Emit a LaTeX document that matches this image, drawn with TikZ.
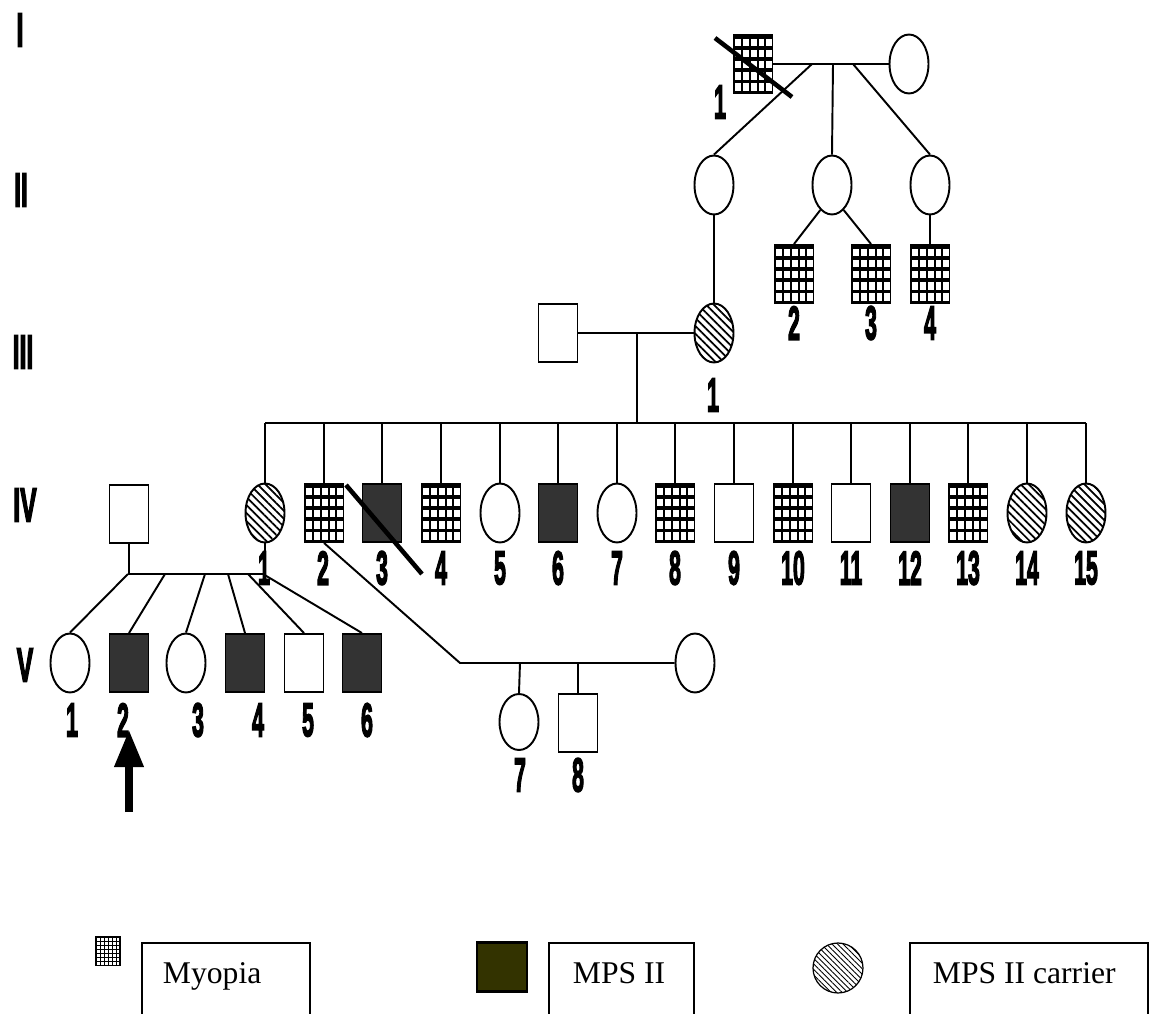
\documentclass[tikz,border=0pt]{standalone}
\usepackage{fontspec}
\usepackage{graphicx}
\setmainfont{Liberation Serif}
\newfontfamily\pedfont{Liberation Sans}[BoldFeatures={FakeBold=4}]
\usetikzlibrary{shapes.geometric,patterns,patterns.meta,arrows.meta}
\newcommand{\pednum}[1]{\scalebox{0.45}[1]{\pedfont\bfseries\fontsize{27}{27}\selectfont #1}}
\newcommand{\genlab}[1]{\scalebox{0.52}[1]{\pedfont\bfseries\fontsize{27}{27}\selectfont #1}}
\definecolor{mpsleg}{RGB}{51,51,0}

\begin{document}
\begin{tikzpicture}[x=0.02cm,y=-0.02cm,line width=1.1pt,
  male/.style={draw,rectangle,minimum width=0.78cm,minimum height=1.16cm,inner sep=0pt},
  female/.style={draw,ellipse,minimum width=0.78cm,minimum height=1.18cm,inner sep=0pt},
  mps/.style={male,fill=black!80},
  myopia/.style={male,fill=black,path picture={
      \foreach \cc in {0,...,4}
        \foreach \rr in {0,...,4}
          \fill[white] ([shift={(1.9+7.7*\cc,3.5+11.2*\rr)}]path picture bounding box.north west) rectangle ++(5.8,7.5);}},
  carrier/.style={female,pattern={Lines[angle=-45,distance=3.2pt,line width=1pt]}},
  num/.style={inner sep=0pt},
  slash/.style={line width=2.6pt},
  proband/.style={line width=4pt,-{Triangle[length=0.74cm,width=0.56cm]}},
  legbox/.style={line width=0.7pt},
  legtext/.style={inner sep=0pt,anchor=base west,font=\fontsize{18}{18}\selectfont}]
\path[use as bounding box,fill=white] (0,0) rectangle (1150,1014);

% generation labels
\node[num] (gI) at (20,30) {\genlab{I}};
\node[num] (gII) at (21,190) {\genlab{II}};
\node[num] (gIII) at (23,352) {\genlab{III}};
\node[num] (gIV) at (25,505) {\genlab{IV}};
\node[num] (gV) at (25,665) {\genlab{V}};

% generation I
\node[myopia] (I1) at (753,64) {};
\node[female] (I2) at (909,64) {};
\draw (I1.east) -- (I2.west);
\node[num] (nI1) at (720,102) {\pednum{1}};
\coordinate (sIa) at (812,64);
\coordinate (sIb) at (833,64);
\coordinate (sIc) at (853,64);

% generation II
\node[female] (II1) at (714,185) {};
\node[female] (II2) at (832,185) {};
\node[female] (II3) at (930,185) {};
\draw (sIa) -- (II1.north);
\draw (sIb) -- (II2.north);
\draw (sIc) -- (II3.north);

% generation III
\node[myopia] (III2) at (794,274) {};
\node[myopia] (III3) at (871,274) {};
\node[myopia] (III4) at (930,274) {};
\draw (II2.245) -- (III2.north);
\draw (II2.295) -- (III3.north);
\draw (II3.south) -- (III4.north);
\node[num] (nIII2) at (794,323) {\pednum{2}};
\node[num] (nIII3) at (871,323) {\pednum{3}};
\node[num] (nIII4) at (930,323) {\pednum{4}};

\node[male] (IIIh) at (558,333) {};
\node[carrier] (III1) at (714,333) {};
\draw (II1.south) -- (III1.north);
\draw (IIIh.east) -- (III1.west);
\node[num] (nIII1) at (713,395) {\pednum{1}};
\coordinate (sIII) at (637,333);
\coordinate (sIV) at (637,423);
\draw (sIII) -- (sIV);

% generation IV
\node[carrier] (IV1) at (265,513) {};
\node[myopia] (IV2) at (324,513) {};
\node[mps] (IV3) at (382,513) {};
\node[myopia] (IV4) at (441,513) {};
\node[female] (IV5) at (500,513) {};
\node[mps] (IV6) at (558,513) {};
\node[female] (IV7) at (617,513) {};
\node[myopia] (IV8) at (675,513) {};
\node[male] (IV9) at (734,513) {};
\node[myopia] (IV10) at (793,513) {};
\node[male] (IV11) at (851,513) {};
\node[mps] (IV12) at (910,513) {};
\node[myopia] (IV13) at (968,513) {};
\node[carrier] (IV14) at (1027,513) {};
\node[carrier] (IV15) at (1086,513) {};

\draw (IV1.north |- sIV) -- (IV15.north |- sIV);
\draw (IV1.north) -- (IV1.north |- sIV);
\draw (IV2.north) -- (IV2.north |- sIV);
\draw (IV3.north) -- (IV3.north |- sIV);
\draw (IV4.north) -- (IV4.north |- sIV);
\draw (IV5.north) -- (IV5.north |- sIV);
\draw (IV6.north) -- (IV6.north |- sIV);
\draw (IV7.north) -- (IV7.north |- sIV);
\draw (IV8.north) -- (IV8.north |- sIV);
\draw (IV9.north) -- (IV9.north |- sIV);
\draw (IV10.north) -- (IV10.north |- sIV);
\draw (IV11.north) -- (IV11.north |- sIV);
\draw (IV12.north) -- (IV12.north |- sIV);
\draw (IV13.north) -- (IV13.north |- sIV);
\draw (IV14.north) -- (IV14.north |- sIV);
\draw (IV15.north) -- (IV15.north |- sIV);

\node[num] (nIV1) at (264,568) {\pednum{1}};
\node[num] (nIV2) at (323,568) {\pednum{2}};
\node[num] (nIV3) at (382,568) {\pednum{3}};
\node[num] (nIV4) at (441,568) {\pednum{4}};
\node[num] (nIV5) at (500,568) {\pednum{5}};
\node[num] (nIV6) at (558,568) {\pednum{6}};
\node[num] (nIV7) at (617,568) {\pednum{7}};
\node[num] (nIV8) at (675,568) {\pednum{8}};
\node[num] (nIV9) at (734,568) {\pednum{9}};
\node[num] (nIV10) at (793,568) {\pednum{10}};
\node[num] (nIV11) at (851,568) {\pednum{11}};
\node[num] (nIV12) at (910,568) {\pednum{12}};
\node[num] (nIV13) at (968,568) {\pednum{13}};
\node[num] (nIV14) at (1027,568) {\pednum{14}};
\node[num] (nIV15) at (1086,568) {\pednum{15}};

% IV-1 family
\node[male] (IVh) at (129,514) {};
\coordinate (mIV) at (129,574);
\draw (IVh.south) -- (mIV) -- (IV1.south |- mIV) -- (IV1.south);
\coordinate (cV1) at (128,574);
\coordinate (cV2) at (165,574);
\coordinate (cV3) at (205,574);
\coordinate (cV4) at (228,574);
\coordinate (cV5) at (248,574);
\coordinate (cV6) at (263,574);

% generation V
\node[female] (V1) at (70,663) {};
\node[mps] (V2) at (129,663) {};
\node[female] (V3) at (186,663) {};
\node[mps] (V4) at (245,663) {};
\node[male] (V5) at (304,663) {};
\node[mps] (V6) at (362,663) {};
\draw (cV1) -- (V1.north);
\draw (cV2) -- (V2.north);
\draw (cV3) -- (V3.north);
\draw (cV4) -- (V4.north);
\draw (cV5) -- (V5.north);
\draw (cV6) -- (V6.north);
\node[num] (nV1) at (72,720) {\pednum{1}};
\node[num] (nV2) at (123,720) {\pednum{2}};
\node[num] (nV3) at (198,720) {\pednum{3}};
\node[num] (nV4) at (258,720) {\pednum{4}};
\node[num] (nV5) at (308,720) {\pednum{5}};
\node[num] (nV6) at (367,720) {\pednum{6}};

\coordinate (pb) at (129,812);
\coordinate (pt) at (129,730);
\draw[proband] (pb) -- (pt);

% IV-2 family
\coordinate (mV) at (460,663);
\node[female] (IVw) at (695,663) {};
\draw (IV2.south) -- (mV) -- (IVw.west);
\coordinate (cV7) at (520,663);
\coordinate (cV8) at (578,663);
\node[female,minimum height=1.12cm] (V7) at (519,722) {};
\node[male] (V8) at (578,723) {};
\draw (cV7) -- (V7.north);
\draw (cV8) -- (V8.north);
\node[num] (nV7) at (520,775) {\pednum{7}};
\node[num] (nV8) at (578,775) {\pednum{8}};

% deceased
\draw[slash] ([shift={(-38,-26)}]I1.center) -- ([shift={(39,33)}]I1.center);
\draw[slash] ([shift={(-36,-28)}]IV3.center) -- ([shift={(40,61)}]IV3.center);

% legend
\node[draw,fill=black,line width=0.8pt,minimum width=0.48cm,minimum height=0.58cm,inner sep=0pt,path picture={
    \foreach \cc in {0,...,5}
      \foreach \rr in {0,...,6}
        \fill[white] ([shift={(1.2+3.9*\cc,1.2+4.1*\rr)}]path picture bounding box.north west) rectangle ++(2.7,2.9);}]
  (kmyo) at (108,951) {};
\draw[legbox] (142,1030) -- (142,943) -- (310,943) -- (310,1030);
\node[legtext] (tmyo) at (162,983) {Myopia};

\node[draw,fill=mpsleg,line width=1.2pt,minimum width=1cm,minimum height=0.98cm,inner sep=0pt] (kmps) at (502,967) {};
\draw[legbox] (549,1030) -- (549,943) -- (694,943) -- (694,1030);
\node[legtext] (tmps) at (572,983) {MPS II};

\node[draw,circle,line width=0.7pt,minimum size=1cm,inner sep=0pt,pattern={Lines[angle=-45,distance=2.2pt,line width=0.5pt]}] (kcar) at (838,968) {};
\draw[legbox] (910,1030) -- (910,943) -- (1148,943) -- (1148,1030);
\node[legtext] (tcar) at (932,983) {MPS II carrier};
\end{tikzpicture}
\end{document}
